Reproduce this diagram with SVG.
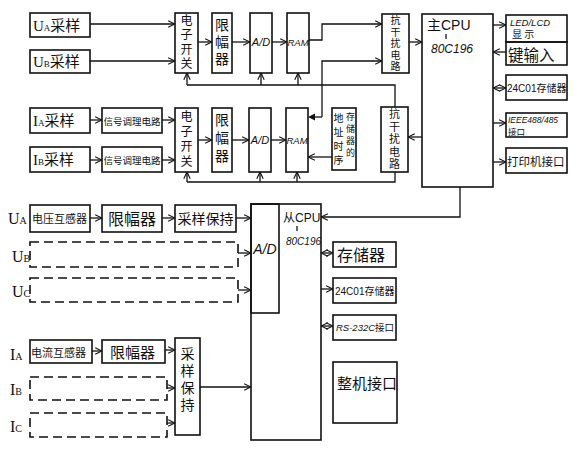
<svg xmlns="http://www.w3.org/2000/svg" width="578" height="450" viewBox="0 0 578 450">
<style>
.b{fill:none;stroke:#111;stroke-width:1.6}
.d{fill:none;stroke:#111;stroke-width:1.6;stroke-dasharray:9 5}
.c{fill:none;stroke:#111;stroke-width:1.3}
.a{marker-end:url(#arr)}
.aa{marker-start:url(#arr);marker-end:url(#arr)}
text{fill:#111;font-family:"Noto Sans CJK SC","Liberation Sans",sans-serif}
.v{text-anchor:middle}
.vt{writing-mode:vertical-rl;text-anchor:middle}
.l{font-family:"Liberation Sans","Noto Sans CJK SC",sans-serif}
.s{font-family:"Liberation Serif","Noto Sans CJK SC",serif}
</style>
<defs>
<marker id="arr" viewBox="0 0 10 10" refX="9.5" refY="5" markerWidth="8" markerHeight="8" markerUnits="userSpaceOnUse" orient="auto-start-reverse">
<path d="M1,1 L9.5,5 L1,9" fill="none" stroke="#111" stroke-width="1.4"/>
</marker>
</defs>
<rect width="578" height="450" fill="#fff"/>

<!-- Row 1 -->
<g id="ua-sample"><rect class="b" x="30" y="13" width="60" height="24"/><text x="33" y="31" font-size="15"><tspan class="s">U</tspan><tspan class="s" font-size="9">A</tspan>采样</text></g>
<g id="ub-sample"><rect class="b" x="30" y="50" width="60" height="23"/><text x="33" y="67" font-size="15"><tspan class="s">U</tspan><tspan class="s" font-size="9">B</tspan>采样</text></g>
<g id="switch1"><rect class="b" x="175" y="13" width="23" height="60"/><text class="vt" x="186.5" y="43" font-size="12" letter-spacing="2.5">电子开关</text></g>
<g id="limiter1"><rect class="b" x="212" y="13" width="20" height="60"/><text class="vt" x="222" y="43" font-size="14" letter-spacing="3">限幅器</text></g>
<g id="ad1"><rect class="b" x="250" y="13" width="22" height="60"/><text class="v l" x="261" y="46" font-size="11" font-style="italic">A/D</text></g>
<g id="ram1"><rect class="b" x="287" y="13" width="22" height="60"/><text class="v l" x="298" y="46" font-size="9.5" font-style="italic">RAM</text></g>
<g id="anti1"><rect class="b" x="382" y="14" width="27" height="59"/><text class="vt" x="395.5" y="44" font-size="10" letter-spacing="1.5">抗干扰电路</text></g>
<g id="main-cpu"><rect class="b" x="422" y="14" width="71" height="173"/><text x="427" y="30" font-size="14">主<tspan class="l">CPU</tspan></text><path class="c" d="M446,34 L446,39"/><text class="l" x="431" y="53" font-size="12" font-style="italic">80C196</text></g>
<g id="led"><rect class="b" x="506" y="15" width="61" height="27"/><text class="l" x="510" y="25.5" font-size="9.5" font-style="italic">LED/LCD</text><text x="512" y="38" font-size="10">显 示</text></g>
<g id="keys"><rect class="b" x="506" y="42" width="61" height="23"/><text x="508" y="61" font-size="15.5">键输入</text></g>
<g id="eeprom1"><rect class="b" x="506" y="75" width="61" height="25"/><text x="507" y="92" font-size="10"><tspan class="l">24C01</tspan>存储器</text></g>
<g id="ieee"><rect class="b" x="506" y="113" width="61" height="24"/><text class="l" x="508" y="123" font-size="8.5" font-style="italic">IEEE488/485</text><text x="508" y="135" font-size="8.5">接口</text></g>
<g id="printer"><rect class="b" x="506" y="148" width="61" height="25"/><text x="507" y="166" font-size="11.5">打印机接口</text></g>

<!-- Row 2 -->
<g id="ia-sample"><rect class="b" x="30" y="108" width="60" height="25"/><text x="33" y="126" font-size="15"><tspan class="s">I</tspan><tspan class="s" font-size="9">A</tspan>采样</text></g>
<g id="ib-sample"><rect class="b" x="30" y="147" width="60" height="25"/><text x="33" y="165" font-size="15"><tspan class="s">I</tspan><tspan class="s" font-size="9">B</tspan>采样</text></g>
<g id="cond1"><rect class="b" x="102" y="108" width="60" height="25"/><text x="103.5" y="125" font-size="9.5">信号调理电路</text></g>
<g id="cond2"><rect class="b" x="102" y="147" width="60" height="25"/><text x="103.5" y="164" font-size="9.5">信号调理电路</text></g>
<g id="switch2"><rect class="b" x="175" y="108" width="23" height="64"/><text class="vt" x="186.5" y="140" font-size="12" letter-spacing="3">电子开关</text></g>
<g id="limiter2"><rect class="b" x="212" y="108" width="20" height="64"/><text class="vt" x="222" y="140" font-size="14" letter-spacing="4">限幅器</text></g>
<g id="ad2"><rect class="b" x="249" y="108" width="22" height="64"/><text class="v l" x="260" y="144" font-size="11" font-style="italic">A/D</text></g>
<g id="ram2"><rect class="b" x="286" y="108" width="22" height="64"/><text class="v l" x="297" y="144" font-size="9.5" font-style="italic">RAM</text></g>
<g id="addr-timing"><rect class="b" x="332" y="108" width="24" height="62"/>
<text class="vt" x="350.5" y="136" font-size="9" letter-spacing="3">存储器的</text>
<text class="vt" x="338.5" y="141" font-size="10" letter-spacing="4">地址时序</text></g>
<g id="anti2"><rect class="b" x="381" y="107" width="27" height="65"/><text class="vt" x="394.5" y="140" font-size="11" letter-spacing="1.5">抗干扰电路</text></g>

<!-- Row 3 voltage -->
<g id="ua-label"><text class="s" x="8" y="224" font-size="16">U<tspan font-size="10">A</tspan></text></g>
<g id="pt"><rect class="b" x="30" y="205" width="60" height="27"/><text x="32" y="223" font-size="11">电压互感器</text></g>
<g id="limiter3"><rect class="b" x="102" y="205" width="60" height="27"/><text x="108" y="225" font-size="16">限幅器</text></g>
<g id="sh1"><rect class="b" x="175" y="205" width="61" height="27"/><text x="177.5" y="224" font-size="14">采样保持</text></g>
<g id="ub-ch"><text class="s" x="12" y="262" font-size="16">U<tspan font-size="10">B</tspan></text><rect class="d" x="30" y="242" width="208" height="25"/></g>
<g id="uc-ch"><text class="s" x="12" y="297" font-size="16">U<tspan font-size="10">C</tspan></text><rect class="d" x="30" y="278" width="208" height="24"/></g>

<!-- Slave CPU -->
<g id="slave-cpu"><rect class="b" x="251" y="204" width="70" height="236"/><text x="283" y="222" font-size="12">从<tspan class="l">CPU</tspan></text><path class="c" d="M297,226 L297,231"/><text class="l" x="286" y="245" font-size="10" font-style="italic">80C196</text></g>
<g id="ad3"><rect class="b" x="251" y="204" width="28" height="109"/><text class="v l" x="265" y="254" font-size="14" font-style="italic">A/D</text></g>
<g id="mem"><rect class="b" x="333" y="242" width="63" height="25"/><text x="337" y="261" font-size="16">存储器</text></g>
<g id="eeprom2"><rect class="b" x="333" y="278" width="63" height="25"/><text x="335" y="295" font-size="10"><tspan class="l">24C01</tspan>存储器</text></g>
<g id="rs232"><rect class="b" x="333" y="315" width="63" height="25"/><text x="336" y="331" font-size="9.5"><tspan class="l" font-style="italic">RS-232C</tspan>接口</text></g>
<g id="sys-if"><rect class="b" x="333" y="362" width="64" height="61"/><text x="337" y="389" font-size="15">整机接口</text></g>

<!-- Row 4 current -->
<g id="ia-label"><text class="s" x="10" y="360" font-size="16">I<tspan font-size="10">A</tspan></text></g>
<g id="ct"><rect class="b" x="30" y="340" width="62" height="23"/><text x="31" y="357" font-size="11">电流互感器</text></g>
<g id="limiter4"><rect class="b" x="102" y="340" width="63" height="23"/><text x="110" y="358" font-size="15">限幅器</text></g>
<g id="sh2"><rect class="b" x="175" y="338" width="25" height="97"/><text class="vt" x="187.5" y="381" font-size="14" letter-spacing="3">采样保持</text></g>
<g id="ib-ch"><text class="s" x="10" y="395" font-size="16">I<tspan font-size="10">B</tspan></text><rect class="d" x="30" y="377" width="137" height="23"/></g>
<g id="ic-ch"><text class="s" x="10" y="432" font-size="16">I<tspan font-size="10">C</tspan></text><rect class="d" x="30" y="413" width="137" height="24"/></g>

<!-- Connectors -->
<g id="connectors">
<path class="c a" d="M90,24 L175,24"/>
<path class="c a" d="M90,61 L175,61"/>
<path class="c a" d="M198,42 L212,42"/>
<path class="c a" d="M232,42 L250,42"/>
<path class="c a" d="M272,42 L287,42"/>
<path class="c a" d="M309,40 L322,40 L322,24 L382,24"/>
<path class="c a" d="M409,42 L422,42"/>
<path class="c" d="M187,85 L395,85 L395,107"/>
<path class="c a" d="M187,85 L187,73"/>
<path class="c a" d="M261,85 L261,73"/>
<path class="c a" d="M298,85 L298,73"/>

<path class="c a" d="M493,25 L506,25"/>
<path class="c a" d="M506,52 L493,52"/>
<path class="c aa" d="M493,88 L506,88"/>
<path class="c a" d="M493,123 L506,123"/>
<path class="c a" d="M493,162 L506,162"/>
<path class="c a" d="M422,137 L408,137"/>

<path class="c a" d="M90,120 L102,120"/>
<path class="c a" d="M90,160 L102,160"/>
<path class="c a" d="M162,120 L175,120"/>
<path class="c a" d="M162,160 L175,160"/>
<path class="c a" d="M198,140 L212,140"/>
<path class="c a" d="M232,140 L249,140"/>
<path class="c a" d="M271,140 L286,140"/>
<path class="c a" d="M322,117 L322,61 L382,61"/>
<path class="c" d="M322,117 L313,117"/>
<polygon points="308,117 315,113.5 315,120.5" fill="#111"/>
<path class="c a" d="M332,157 L308,157"/>
<path class="c" d="M187,182 L395,182 L395,172"/>
<path class="c a" d="M187,182 L187,172"/>
<path class="c a" d="M260,182 L260,172"/>
<path class="c a" d="M297,182 L297,172"/>

<path class="c a" d="M460,187 L460,217 L321,217"/>

<path class="c a" d="M90,218 L102,218"/>
<path class="c a" d="M162,218 L175,218"/>
<path class="c a" d="M236,218 L251,218"/>
<path class="c a" d="M238,253 L251,253"/>
<path class="c a" d="M238,290 L251,290"/>
<path class="c aa" d="M321,253 L333,253"/>
<path class="c a" d="M321,289 L333,289"/>
<path class="c aa" d="M321,326 L333,326"/>

<path class="c a" d="M92,351 L102,351"/>
<path class="c a" d="M165,350 L175,350"/>
<path class="c a" d="M167,388 L175,388"/>
<path class="c a" d="M167,423 L175,423"/>
<path class="c a" d="M200,387 L251,387"/>
</g>
</svg>
